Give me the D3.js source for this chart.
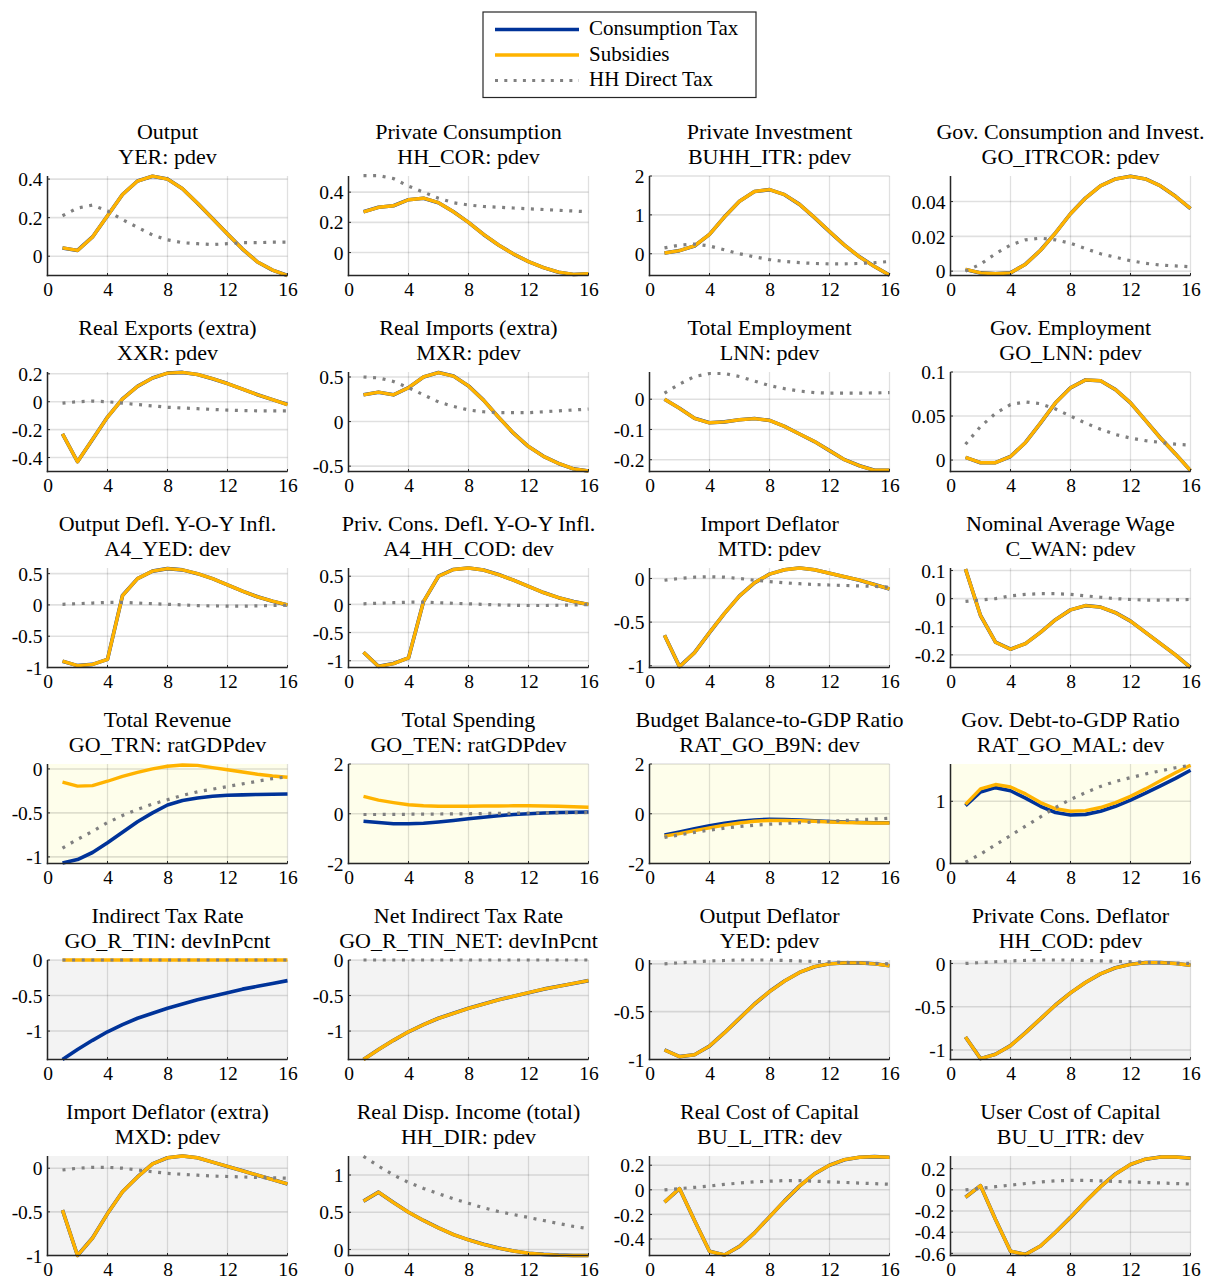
<!DOCTYPE html>
<html>
<head>
<meta charset="utf-8">
<script src="https://cdn.jsdelivr.net/npm/d3@7"></script>
<style>
html,body{margin:0;padding:0;background:#fff;}
svg{display:block;}
svg text{font-family:"Liberation Serif","Times New Roman",serif !important;fill:#000;}
</style>
</head>
<body>
<svg id="chart" width="1219" height="1281"></svg>
<script>
// ---------------- DATA ----------------
const quarters = [1,2,3,4,5,6,7,8,9,10,11,12,13,14,15,16];
const xTicks = [0,4,8,12,16];
const seriesNames = ["Consumption Tax","Subsidies","HH Direct Tax"];

const titles = ["Output","Private Consumption","Private Investment","Gov. Consumption and Invest.",
  "Real Exports (extra)","Real Imports (extra)","Total Employment","Gov. Employment",
  "Output Defl. Y-O-Y Infl.","Priv. Cons. Defl. Y-O-Y Infl.","Import Deflator","Nominal Average Wage",
  "Total Revenue","Total Spending","Budget Balance-to-GDP Ratio","Gov. Debt-to-GDP Ratio",
  "Indirect Tax Rate","Net Indirect Tax Rate","Output Deflator","Private Cons. Deflator",
  "Import Deflator (extra)","Real Disp. Income (total)","Real Cost of Capital","User Cost of Capital"];

const subtitles = ["YER: pdev","HH_COR: pdev","BUHH_ITR: pdev","GO_ITRCOR: pdev",
  "XXR: pdev","MXR: pdev","LNN: pdev","GO_LNN: pdev",
  "A4_YED: dev","A4_HH_COD: dev","MTD: pdev","C_WAN: pdev",
  "GO_TRN: ratGDPdev","GO_TEN: ratGDPdev","RAT_GO_B9N: dev","RAT_GO_MAL: dev",
  "GO_R_TIN: devInPcnt","GO_R_TIN_NET: devInPcnt","YED: pdev","HH_COD: pdev",
  "MXD: pdev","HH_DIR: pdev","BU_L_ITR: dev","BU_U_ITR: dev"];

const yLimits = [
  [-0.1,0.416],[-0.152,0.507],[-0.56,2.0],[-0.0025,0.0547],
  [-0.5,0.213],[-0.56,0.556],[-0.239,0.09],[-0.013,0.1],
  [-1.0,0.59],[-1.12,0.646],[-1.02,0.12],[-0.245,0.109],
  [-1.075,0.056],[-2,2],[-2,2],[0,1.6],
  [-1.4,0],[-1.4,0],[-1.0,0.04],[-1.11,0.04],
  [-1.0,0.14],[-0.08,1.255],[-0.534,0.275],[-0.62,0.32]];

const yTicks = [
  [0,0.2,0.4],[0,0.2,0.4],[0,1,2],[0,0.02,0.04],
  [-0.4,-0.2,0,0.2],[-0.5,0,0.5],[-0.2,-0.1,0],[0,0.05,0.1],
  [-1,-0.5,0,0.5],[-1,-0.5,0,0.5],[-1,-0.5,0],[-0.2,-0.1,0,0.1],
  [-1,-0.5,0],[-2,0,2],[-2,0,2],[0,1],
  [-1,-0.5,0],[-1,-0.5,0],[-1,-0.5,0],[-1,-0.5,0],
  [-1,-0.5,0],[0,0.5,1],[-0.4,-0.2,0,0.2],[-0.6,-0.4,-0.2,0,0.2]];

const subsidies = [
  [0.043,0.03,0.1,0.21,0.32,0.39,0.415,0.40,0.35,0.275,0.195,0.115,0.037,-0.03,-0.072,-0.1],
  [0.27,0.30,0.31,0.35,0.36,0.33,0.27,0.20,0.12,0.05,-0.01,-0.06,-0.10,-0.13,-0.145,-0.14],
  [0.02,0.08,0.2,0.5,0.95,1.35,1.6,1.65,1.52,1.27,0.93,0.57,0.22,-0.08,-0.33,-0.55],
  [0.001,-0.001,-0.0015,-0.001,0.004,0.012,0.022,0.033,0.042,0.049,0.053,0.0545,0.053,0.049,0.043,0.036],
  [-0.23,-0.43,-0.27,-0.11,0.02,0.11,0.17,0.205,0.21,0.195,0.165,0.13,0.09,0.05,0.015,-0.02],
  [0.30,0.33,0.30,0.38,0.50,0.55,0.51,0.40,0.24,0.05,-0.13,-0.28,-0.39,-0.47,-0.53,-0.555],
  [0.0,-0.03,-0.063,-0.078,-0.075,-0.068,-0.064,-0.07,-0.09,-0.115,-0.14,-0.17,-0.20,-0.22,-0.235,-0.235],
  [0.003,-0.003,-0.003,0.004,0.02,0.042,0.065,0.082,0.091,0.09,0.08,0.065,0.045,0.025,0.007,-0.012],
  [-0.9,-0.97,-0.95,-0.87,0.15,0.42,0.54,0.58,0.56,0.5,0.42,0.32,0.22,0.13,0.06,0.0],
  [-0.85,-1.1,-1.05,-0.95,0.05,0.5,0.62,0.645,0.61,0.53,0.43,0.32,0.21,0.12,0.05,0.0],
  [-0.65,-1.01,-0.85,-0.62,-0.4,-0.2,-0.05,0.05,0.1,0.12,0.1,0.06,0.02,-0.02,-0.07,-0.12],
  [0.105,-0.06,-0.155,-0.18,-0.16,-0.12,-0.075,-0.04,-0.025,-0.03,-0.05,-0.08,-0.12,-0.16,-0.2,-0.245],
  [-0.15,-0.195,-0.19,-0.14,-0.085,-0.04,0.0,0.03,0.045,0.04,0.015,-0.01,-0.035,-0.06,-0.08,-0.095],
  [0.7,0.55,0.45,0.36,0.32,0.3,0.3,0.3,0.31,0.31,0.32,0.32,0.31,0.3,0.28,0.26],
  [-0.9,-0.8,-0.68,-0.57,-0.46,-0.37,-0.3,-0.27,-0.27,-0.28,-0.3,-0.33,-0.35,-0.36,-0.37,-0.37],
  [0.95,1.2,1.27,1.23,1.12,0.98,0.88,0.84,0.85,0.9,0.98,1.08,1.2,1.33,1.46,1.58],
  [0,0,0,0,0,0,0,0,0,0,0,0,0,0,0,0],
  [-1.4,-1.26,-1.13,-1.01,-0.91,-0.82,-0.75,-0.68,-0.62,-0.56,-0.51,-0.46,-0.41,-0.37,-0.33,-0.29],
  [-0.9,-0.97,-0.95,-0.86,-0.72,-0.57,-0.42,-0.29,-0.18,-0.09,-0.03,0.0,0.01,0.01,0.0,-0.02],
  [-0.85,-1.1,-1.05,-0.95,-0.8,-0.64,-0.48,-0.34,-0.22,-0.12,-0.05,-0.01,0.01,0.01,0.0,-0.02],
  [-0.48,-1.0,-0.8,-0.52,-0.27,-0.1,0.05,0.12,0.14,0.12,0.07,0.02,-0.03,-0.08,-0.13,-0.18],
  [0.65,0.77,0.63,0.5,0.39,0.29,0.2,0.13,0.07,0.02,-0.02,-0.05,-0.065,-0.075,-0.08,-0.08],
  [-0.1,0.01,-0.25,-0.5,-0.53,-0.46,-0.35,-0.22,-0.09,0.03,0.13,0.2,0.245,0.265,0.27,0.265],
  [-0.07,0.04,-0.28,-0.58,-0.61,-0.53,-0.4,-0.26,-0.11,0.03,0.15,0.24,0.29,0.31,0.31,0.3]];

const consumptionTax = [
  [0.043,0.03,0.1,0.21,0.32,0.39,0.415,0.40,0.35,0.275,0.195,0.115,0.037,-0.03,-0.072,-0.1],
  [0.27,0.30,0.31,0.35,0.36,0.33,0.27,0.20,0.12,0.05,-0.01,-0.06,-0.10,-0.13,-0.145,-0.14],
  [0.02,0.08,0.2,0.5,0.95,1.35,1.6,1.65,1.52,1.27,0.93,0.57,0.22,-0.08,-0.33,-0.55],
  [0.001,-0.001,-0.0015,-0.001,0.004,0.012,0.022,0.033,0.042,0.049,0.053,0.0545,0.053,0.049,0.043,0.036],
  [-0.23,-0.43,-0.27,-0.11,0.02,0.11,0.17,0.205,0.21,0.195,0.165,0.13,0.09,0.05,0.015,-0.02],
  [0.30,0.33,0.30,0.38,0.50,0.55,0.51,0.40,0.24,0.05,-0.13,-0.28,-0.39,-0.47,-0.53,-0.555],
  [0.0,-0.03,-0.063,-0.078,-0.075,-0.068,-0.064,-0.07,-0.09,-0.115,-0.14,-0.17,-0.20,-0.22,-0.235,-0.235],
  [0.003,-0.003,-0.003,0.004,0.02,0.042,0.065,0.082,0.091,0.09,0.08,0.065,0.045,0.025,0.007,-0.012],
  [-0.9,-0.97,-0.95,-0.87,0.15,0.42,0.54,0.58,0.56,0.5,0.42,0.32,0.22,0.13,0.06,0.0],
  [-0.85,-1.1,-1.05,-0.95,0.05,0.5,0.62,0.645,0.61,0.53,0.43,0.32,0.21,0.12,0.05,0.0],
  [-0.65,-1.01,-0.85,-0.62,-0.4,-0.2,-0.05,0.05,0.1,0.12,0.1,0.06,0.02,-0.02,-0.07,-0.12],
  [0.105,-0.06,-0.155,-0.18,-0.16,-0.12,-0.075,-0.04,-0.025,-0.03,-0.05,-0.08,-0.12,-0.16,-0.2,-0.245],
  [-1.07,-1.03,-0.95,-0.84,-0.72,-0.6,-0.5,-0.41,-0.36,-0.33,-0.31,-0.3,-0.295,-0.29,-0.288,-0.285],
  [-0.3,-0.35,-0.4,-0.4,-0.38,-0.33,-0.27,-0.2,-0.14,-0.08,-0.03,0.0,0.03,0.05,0.06,0.07],
  [-0.85,-0.73,-0.6,-0.48,-0.38,-0.3,-0.25,-0.22,-0.23,-0.25,-0.28,-0.31,-0.33,-0.35,-0.36,-0.36],
  [0.93,1.15,1.22,1.17,1.05,0.92,0.82,0.78,0.79,0.84,0.92,1.02,1.13,1.25,1.37,1.5],
  [-1.4,-1.26,-1.13,-1.01,-0.91,-0.82,-0.75,-0.68,-0.62,-0.56,-0.51,-0.46,-0.41,-0.37,-0.33,-0.29],
  [-1.4,-1.26,-1.13,-1.01,-0.91,-0.82,-0.75,-0.68,-0.62,-0.56,-0.51,-0.46,-0.41,-0.37,-0.33,-0.29],
  [-0.9,-0.97,-0.95,-0.86,-0.72,-0.57,-0.42,-0.29,-0.18,-0.09,-0.03,0.0,0.01,0.01,0.0,-0.02],
  [-0.85,-1.1,-1.05,-0.95,-0.8,-0.64,-0.48,-0.34,-0.22,-0.12,-0.05,-0.01,0.01,0.01,0.0,-0.02],
  [-0.48,-1.0,-0.8,-0.52,-0.27,-0.1,0.05,0.12,0.14,0.12,0.07,0.02,-0.03,-0.08,-0.13,-0.18],
  [0.65,0.77,0.63,0.5,0.39,0.29,0.2,0.13,0.07,0.02,-0.02,-0.05,-0.065,-0.075,-0.08,-0.08],
  [-0.1,0.01,-0.25,-0.5,-0.53,-0.46,-0.35,-0.22,-0.09,0.03,0.13,0.2,0.245,0.265,0.27,0.265],
  [-0.07,0.04,-0.28,-0.58,-0.61,-0.53,-0.4,-0.26,-0.11,0.03,0.15,0.24,0.29,0.31,0.31,0.3]];

const hhDirectTax = [
  [0.21,0.25,0.265,0.235,0.19,0.15,0.11,0.085,0.07,0.065,0.06,0.065,0.07,0.07,0.073,0.073],
  [0.51,0.51,0.49,0.44,0.40,0.36,0.33,0.315,0.305,0.30,0.295,0.29,0.285,0.28,0.275,0.27],
  [0.15,0.22,0.25,0.2,0.1,0.0,-0.08,-0.15,-0.2,-0.23,-0.25,-0.26,-0.26,-0.25,-0.23,-0.2],
  [0.0,0.004,0.01,0.015,0.018,0.019,0.018,0.016,0.013,0.01,0.008,0.006,0.0045,0.0035,0.003,0.0025],
  [-0.01,0.0,0.005,0.0,-0.01,-0.02,-0.03,-0.04,-0.045,-0.05,-0.055,-0.06,-0.063,-0.065,-0.065,-0.065],
  [0.50,0.49,0.45,0.38,0.30,0.22,0.17,0.13,0.11,0.10,0.10,0.10,0.11,0.12,0.13,0.14],
  [0.02,0.05,0.075,0.085,0.085,0.075,0.06,0.045,0.035,0.027,0.022,0.02,0.02,0.02,0.021,0.022],
  [0.018,0.038,0.053,0.063,0.066,0.064,0.058,0.05,0.042,0.035,0.029,0.025,0.022,0.02,0.018,0.017],
  [0.01,0.02,0.03,0.04,0.04,0.03,0.02,0.01,0.0,-0.01,-0.015,-0.02,-0.02,-0.015,-0.01,-0.005],
  [0.01,0.02,0.03,0.04,0.04,0.03,0.02,0.01,0.0,-0.01,-0.015,-0.02,-0.02,-0.015,-0.01,-0.005],
  [-0.02,0.0,0.015,0.02,0.015,0.0,-0.02,-0.035,-0.05,-0.06,-0.07,-0.075,-0.08,-0.085,-0.09,-0.1],
  [-0.01,-0.005,0.0,0.01,0.015,0.018,0.018,0.015,0.01,0.005,0.0,-0.003,-0.005,-0.005,-0.004,-0.003],
  [-0.9,-0.8,-0.71,-0.61,-0.53,-0.46,-0.4,-0.35,-0.3,-0.26,-0.23,-0.2,-0.17,-0.14,-0.11,-0.09],
  [-0.03,-0.03,-0.025,-0.02,-0.015,-0.01,-0.005,0.0,0.01,0.015,0.02,0.03,0.035,0.04,0.045,0.05],
  [-0.95,-0.85,-0.75,-0.66,-0.58,-0.51,-0.46,-0.42,-0.39,-0.36,-0.33,-0.3,-0.27,-0.24,-0.21,-0.18],
  [0.02,0.15,0.3,0.45,0.6,0.75,0.9,1.03,1.14,1.24,1.32,1.38,1.44,1.49,1.54,1.58],
  [0,0,0,0,0,0,0,0,0,0,0,0,0,0,0,0],
  [0,0,0,0,0,0,0,0,0,0,0,0,0,0,0,0],
  [0.0,0.01,0.02,0.03,0.035,0.04,0.04,0.04,0.035,0.03,0.025,0.02,0.015,0.01,0.005,0.0],
  [0.0,0.01,0.02,0.03,0.035,0.04,0.04,0.04,0.035,0.03,0.025,0.02,0.015,0.01,0.005,0.0],
  [-0.02,0.0,0.01,0.01,0.0,-0.02,-0.04,-0.06,-0.07,-0.08,-0.09,-0.095,-0.1,-0.105,-0.11,-0.115],
  [1.25,1.12,1.0,0.9,0.82,0.75,0.68,0.62,0.56,0.51,0.47,0.43,0.39,0.35,0.31,0.28],
  [0.0,0.01,0.02,0.03,0.045,0.055,0.065,0.07,0.075,0.075,0.07,0.065,0.06,0.055,0.05,0.045],
  [0.0,0.015,0.03,0.045,0.06,0.075,0.085,0.09,0.09,0.085,0.08,0.075,0.07,0.065,0.06,0.055]];

// ---------------- STYLE / LAYOUT ----------------
const COLORS = {ct:"#003399", sub:"#FFB300", hh:"#808080"};
const rowBg = ["#ffffff","#ffffff","#ffffff","#fefeeb","#f3f3f3","#f3f3f3"];
const FONT = '"Liberation Serif","Times New Roman",serif';
const colX0 = 47.5, colStep = 301, plotW = 240;
const rowY0 = 176, rowStep = 196, plotH = 99.5;

const svg = d3.select("#chart");
svg.append("rect").attr("width",1219).attr("height",1281).attr("fill","#fff");

const fmt = v => String(+v.toFixed(4));

titles.forEach((title,i) => {
  const r = Math.floor(i/4), c = i%4;
  const x0 = colX0 + c*colStep, y0 = rowY0 + r*rowStep;
  const g = svg.append("g").attr("transform",`translate(${x0},${y0})`);
  const x = d3.scaleLinear().domain([0,16]).range([0,plotW]);
  const y = d3.scaleLinear().domain(yLimits[i]).range([plotH,0]);

  g.append("rect").attr("width",plotW).attr("height",plotH).attr("fill",rowBg[r]);

  // grid
  g.selectAll(".gx").data(xTicks).join("line")
    .attr("x1",d=>x(d)).attr("x2",d=>x(d)).attr("y1",0).attr("y2",plotH)
    .attr("stroke","#000").attr("stroke-opacity",0.12).attr("stroke-width",1.3);
  g.selectAll(".gy").data(yTicks[i]).join("line")
    .attr("x1",0).attr("x2",plotW).attr("y1",d=>y(d)).attr("y2",d=>y(d))
    .attr("stroke","#000").attr("stroke-opacity",0.12).attr("stroke-width",1.6);

  // lines
  const line = d3.line().x((d,k)=>x(quarters[k])).y(d=>y(d));
  g.append("path").datum(consumptionTax[i]).attr("d",line)
    .attr("fill","none").attr("stroke",COLORS.ct).attr("stroke-width",3.6)
    .attr("stroke-linejoin","round");
  g.append("path").datum(subsidies[i]).attr("d",line)
    .attr("fill","none").attr("stroke",COLORS.sub).attr("stroke-width",3.4)
    .attr("stroke-linejoin","round");
  g.append("path").datum(hhDirectTax[i]).attr("d",line)
    .attr("fill","none").attr("stroke",COLORS.hh).attr("stroke-width",3.2)
    .attr("stroke-dasharray","3,6.6");

  // axes
  const ax = d3.axisBottom(x).tickValues(xTicks).tickSize(0).tickPadding(0).tickFormat(d3.format("d"));
  const ay = d3.axisLeft(y).tickValues(yTicks[i]).tickSize(0).tickPadding(0).tickFormat(fmt);
  const gxA = g.append("g").attr("transform",`translate(0,${plotH})`).call(ax)
    .attr("font-family",null).attr("font-size",null);
  gxA.select(".domain").remove();
  gxA.selectAll("text").style("font-family",FONT).style("font-size","19.5px")
     .attr("y",20.5).attr("dy",0).attr("fill","#000");
  const gyA = g.append("g").call(ay).attr("font-family",null).attr("font-size",null);
  gyA.select(".domain").remove();
  gyA.selectAll("text").style("font-family",FONT).style("font-size","19.5px")
     .attr("x",-5).attr("dy","0.34em").attr("fill","#000");

  // inward ticks
  g.selectAll(".tx").data(xTicks).join("line")
    .attr("x1",d=>x(d)).attr("x2",d=>x(d)).attr("y1",plotH).attr("y2",plotH-2.5)
    .attr("stroke","#262626").attr("stroke-width",1);
  g.selectAll(".ty").data(yTicks[i]).join("line")
    .attr("x1",0).attr("x2",2.5).attr("y1",d=>y(d)).attr("y2",d=>y(d))
    .attr("stroke","#262626").attr("stroke-width",1);

  g.append("line").attr("x1",0).attr("x2",0).attr("y1",0).attr("y2",plotH+0.75)
    .attr("stroke","#262626").attr("stroke-width",1.5);
  g.append("line").attr("x1",-0.75).attr("x2",plotW).attr("y1",plotH).attr("y2",plotH)
    .attr("stroke","#262626").attr("stroke-width",1.5);

  // titles
  g.append("text").attr("x",plotW/2).attr("y",-37).attr("text-anchor","middle")
    .style("font-family",FONT).style("font-size","22px").text(title);
  g.append("text").attr("x",plotW/2).attr("y",-12).attr("text-anchor","middle")
    .style("font-family",FONT).style("font-size","22px").text(subtitles[i]);
});

// ---------------- LEGEND ----------------
const lg = svg.append("g");
lg.append("rect").attr("x",483).attr("y",12).attr("width",273).attr("height",85.5)
  .attr("fill","#fff").attr("stroke","#262626").attr("stroke-width",1.2);
const legendStyles = [
  {c:COLORS.ct, w:3.6, dash:null},
  {c:COLORS.sub, w:3.6, dash:null},
  {c:COLORS.hh, w:3.2, dash:"3,6.3"}];
seriesNames.forEach((name,k)=>{
  const yy = 29.5 + k*25.5;
  lg.append("line").attr("x1",495).attr("x2",579).attr("y1",yy).attr("y2",yy)
    .attr("stroke",legendStyles[k].c).attr("stroke-width",legendStyles[k].w)
    .attr("stroke-dasharray",legendStyles[k].dash);
  lg.append("text").attr("x",589).attr("y",yy+5.5)
    .style("font-family",FONT).style("font-size","21px").text(name);
});
</script>
</body>
</html>
